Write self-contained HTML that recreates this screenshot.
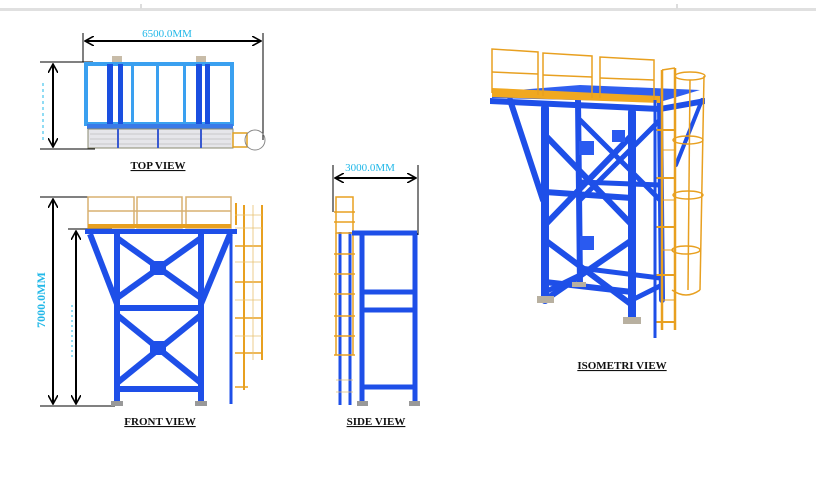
<!DOCTYPE html>
<html><head><meta charset="utf-8"><style>
html,body{margin:0;padding:0;background:#fff;width:816px;height:480px;overflow:hidden}
svg{display:block}
.lbl{font-family:"Liberation Serif",serif;font-size:11px;font-weight:bold;fill:#111;text-decoration:underline}
.dim{font-family:"Liberation Serif",serif;font-size:11px;fill:#22b8e8}
</style></head><body>
<svg width="816" height="480" viewBox="0 0 816 480">
<defs>
<marker id="ar" markerWidth="10" markerHeight="10" refX="9" refY="5" orient="auto-start-reverse" markerUnits="userSpaceOnUse">
<path d="M0,0 L9,5 L0,10" fill="none" stroke="#000" stroke-width="1.6"/></marker>
</defs>
<!-- top border -->
<rect x="0" y="8" width="816" height="3" fill="#e0e0e0"/>
<rect x="140" y="4" width="2" height="5" fill="#ddd"/><rect x="676" y="4" width="2" height="5" fill="#ddd"/>

<!-- TOP VIEW -->
<g stroke="#000" stroke-width="1">
<line x1="83" y1="33" x2="83" y2="62"/><line x1="263" y1="33" x2="263" y2="140"/>
<line x1="40" y1="62" x2="93" y2="62"/><line x1="40" y1="149" x2="95" y2="149"/>
</g>
<line x1="85" y1="41" x2="261" y2="41" stroke="#000" stroke-width="2" marker-start="url(#ar)" marker-end="url(#ar)"/>
<line x1="53" y1="64" x2="53" y2="147" stroke="#000" stroke-width="2" marker-start="url(#ar)" marker-end="url(#ar)"/>
<line x1="43" y1="83" x2="43" y2="140" stroke="#22b8e8" stroke-dasharray="3,3"/>
<text class="dim" x="167" y="37" text-anchor="middle">6500.0MM</text>
<rect x="112" y="56" width="10" height="8" fill="#c8bca8"/><rect x="196" y="56" width="10" height="8" fill="#c8bca8"/>
<rect x="86" y="64" width="146" height="60" fill="none" stroke="#3aa0f0" stroke-width="4"/>
<g fill="#3aa0f0"><rect x="131" y="62" width="3" height="62"/><rect x="156" y="62" width="3" height="62"/><rect x="183" y="62" width="3" height="62"/></g>
<g fill="#1a4fe0"><rect x="107" y="64" width="6" height="60"/><rect x="118" y="64" width="5" height="60"/><rect x="196" y="64" width="6" height="60"/><rect x="205" y="64" width="5" height="60"/></g>
<rect x="87" y="124" width="146" height="5" fill="#3a7ae8"/>
<rect x="88" y="129" width="145" height="19" fill="#e6e6ea" stroke="#8a8a70" stroke-width="1"/>
<g stroke="#aaa" stroke-width="0.5">
<line x1="90" y1="134" x2="231" y2="134"/><line x1="90" y1="139" x2="231" y2="139"/><line x1="90" y1="144" x2="231" y2="144"/>
</g>
<g fill="#3a5ad0"><rect x="117" y="129" width="2" height="19"/><rect x="157" y="129" width="2" height="19"/><rect x="200" y="129" width="2" height="19"/></g>
<rect x="233" y="133" width="14" height="14" fill="none" stroke="#e0a020" stroke-width="1.5"/>
<circle cx="255" cy="140" r="10" fill="none" stroke="#888"/>
<text class="lbl" x="158" y="169" text-anchor="middle">TOP VIEW</text>

<!-- FRONT VIEW -->
<g stroke="#000" stroke-width="1">
<line x1="40" y1="197" x2="90" y2="197"/><line x1="68" y1="229" x2="112" y2="229"/><line x1="40" y1="406" x2="115" y2="406"/>
</g>
<line x1="53" y1="199" x2="53" y2="404" stroke="#000" stroke-width="2" marker-start="url(#ar)" marker-end="url(#ar)"/>
<line x1="76" y1="231" x2="76" y2="404" stroke="#000" stroke-width="2" marker-start="url(#ar)" marker-end="url(#ar)"/>
<line x1="72" y1="305" x2="72" y2="360" stroke="#22b8e8" stroke-dasharray="2,3"/>
<text class="dim" x="45" y="300" text-anchor="middle" font-weight="bold" transform="rotate(-90 45 300)" style="font-size:12px">7000.0MM</text>
<g fill="none" stroke="#d8b070" stroke-width="1.5">
<rect x="88" y="197" width="46" height="31"/><rect x="137" y="197" width="45" height="31"/><rect x="186" y="197" width="45" height="31"/>
<line x1="88" y1="211" x2="231" y2="211"/>
</g>
<rect x="88" y="224" width="143" height="4" fill="#e8a020"/>
<rect x="85" y="229" width="152" height="5" fill="#1e4fe8"/>
<g stroke="#1e4fe8" stroke-width="6" fill="none">
<line x1="117" y1="233" x2="117" y2="402"/><line x1="201" y1="233" x2="201" y2="402"/>
<line x1="90" y1="234" x2="117" y2="304"/><line x1="230" y1="234" x2="201" y2="304"/>
<line x1="117" y1="238" x2="201" y2="298"/><line x1="201" y1="238" x2="117" y2="298"/>
<line x1="117" y1="315" x2="201" y2="383"/><line x1="201" y1="315" x2="117" y2="383"/>
<line x1="117" y1="308" x2="201" y2="308"/><line x1="117" y1="389" x2="201" y2="389"/>
<line x1="231" y1="233" x2="231" y2="404" stroke-width="3"/>
</g>
<rect x="150" y="261" width="16" height="14" fill="#1e4fe8"/><rect x="150" y="341" width="16" height="14" fill="#1e4fe8"/>
<rect x="111" y="401" width="12" height="5" fill="#999"/><rect x="195" y="401" width="12" height="5" fill="#999"/>
<g stroke="#e8a020" stroke-width="2" fill="none">
<line x1="244" y1="205" x2="244" y2="390"/><line x1="262" y1="205" x2="262" y2="360"/>
<line x1="236" y1="203" x2="236" y2="225"/>
</g>
<g stroke="#e8a020" stroke-width="1.5">
<line x1="235" y1="246" x2="262" y2="246"/><line x1="235" y1="282" x2="262" y2="282"/><line x1="235" y1="318" x2="262" y2="318"/><line x1="235" y1="353" x2="262" y2="353"/><line x1="235" y1="387" x2="248" y2="387"/>
</g>
<g stroke="#e8c070" stroke-width="0.8">
<line x1="235" y1="215" x2="262" y2="215"/><line x1="235" y1="228" x2="262" y2="228"/><line x1="235" y1="262" x2="262" y2="262"/><line x1="235" y1="300" x2="262" y2="300"/><line x1="235" y1="336" x2="262" y2="336"/><line x1="253" y1="205" x2="253" y2="360"/>
</g>
<text class="lbl" x="160" y="425" text-anchor="middle">FRONT VIEW</text>

<!-- SIDE VIEW -->
<g stroke="#000" stroke-width="1">
<line x1="333" y1="165" x2="333" y2="212"/><line x1="418" y1="165" x2="418" y2="235"/>
</g>
<line x1="335" y1="178" x2="416" y2="178" stroke="#000" stroke-width="2" marker-start="url(#ar)" marker-end="url(#ar)"/>
<text class="dim" x="370" y="171" text-anchor="middle">3000.0MM</text>
<g stroke="#1e4fe8" stroke-width="3"><line x1="340" y1="232" x2="340" y2="405"/><line x1="350" y1="232" x2="350" y2="405"/></g>
<g fill="none" stroke="#e8a020" stroke-width="1.5">
<rect x="336" y="197" width="17" height="36"/>
<line x1="336" y1="233" x2="336" y2="355"/><line x1="353" y1="233" x2="353" y2="355"/>
</g>
<g stroke="#e8a020" stroke-width="1.5">
<line x1="334" y1="254" x2="355" y2="254"/><line x1="334" y1="274" x2="355" y2="274"/><line x1="334" y1="294" x2="355" y2="294"/><line x1="334" y1="316" x2="355" y2="316"/><line x1="334" y1="336" x2="355" y2="336"/><line x1="334" y1="355" x2="355" y2="355"/>
<line x1="334" y1="212" x2="355" y2="212"/><line x1="334" y1="222" x2="355" y2="222"/>
</g>
<g stroke="#e8c070" stroke-width="0.8"><line x1="336" y1="380" x2="353" y2="380"/><line x1="336" y1="392" x2="353" y2="392"/></g>
<g fill="none" stroke="#1e4fe8" stroke-width="5">
<line x1="362" y1="233" x2="362" y2="402"/><line x1="415" y1="233" x2="415" y2="402"/>
<line x1="352" y1="233" x2="417" y2="233"/>
<line x1="362" y1="292" x2="415" y2="292"/><line x1="362" y1="310" x2="415" y2="310"/><line x1="362" y1="387" x2="415" y2="387"/>
</g>
<rect x="357" y="401" width="11" height="5" fill="#999"/><rect x="409" y="401" width="11" height="5" fill="#999"/>
<text class="lbl" x="376" y="425" text-anchor="middle">SIDE VIEW</text>

<!-- ISOMETRIC -->
<g fill="none" stroke="#1e4fe8" stroke-linecap="round">
<line x1="510" y1="100" x2="543" y2="200" stroke-width="6"/>
<line x1="578" y1="100" x2="580" y2="285" stroke-width="6"/>
<line x1="660" y1="103" x2="662" y2="300" stroke-width="6"/>
<line x1="545" y1="108" x2="545" y2="300" stroke-width="8"/>
<line x1="632" y1="112" x2="632" y2="318" stroke-width="8"/>
<line x1="545" y1="135" x2="632" y2="225" stroke-width="6"/>
<line x1="632" y1="135" x2="545" y2="225" stroke-width="6"/>
<line x1="545" y1="240" x2="632" y2="305" stroke-width="6"/>
<line x1="632" y1="240" x2="545" y2="300" stroke-width="6"/>
<line x1="580" y1="120" x2="660" y2="200" stroke-width="5"/>
<line x1="660" y1="120" x2="580" y2="200" stroke-width="5"/>
<line x1="545" y1="192" x2="632" y2="198" stroke-width="6"/>
<line x1="580" y1="182" x2="660" y2="185" stroke-width="5"/>
<line x1="545" y1="282" x2="632" y2="292" stroke-width="6"/>
<line x1="580" y1="268" x2="660" y2="278" stroke-width="5"/>
<line x1="545" y1="292" x2="580" y2="275" stroke-width="5"/>
<line x1="632" y1="300" x2="662" y2="285" stroke-width="5"/>
<line x1="702" y1="100" x2="676" y2="165" stroke-width="4"/>
</g>
<polygon points="490,98 660,106 705,98 705,104 660,112 490,104" fill="#1e4fe8"/>
<polygon points="492,92 580,85 700,90 660,102 492,98" fill="#2f5ff0"/>
<polygon points="492,88 660,96 660,103 492,97" fill="#f0a820"/>
<rect x="579" y="141" width="15" height="14" fill="#2a5af0"/>
<rect x="612" y="130" width="13" height="12" fill="#2a5af0"/>
<rect x="580" y="236" width="14" height="14" fill="#2a5af0"/>
<rect x="537" y="296" width="17" height="7" fill="#b8b0a0"/>
<rect x="623" y="317" width="18" height="7" fill="#b8b0a0"/>
<rect x="572" y="282" width="14" height="5" fill="#b8b0a0"/>
<g fill="none" stroke="#e8a020" stroke-width="1.5">
<polyline points="492,93 492,49 538,52 538,95"/><line x1="492" y1="72" x2="538" y2="74"/>
<polyline points="543,96 543,53 592,56 592,98"/><line x1="543" y1="75" x2="592" y2="77"/>
<polyline points="600,98 600,57 654,60 654,100"/><line x1="600" y1="78" x2="654" y2="80"/>
<line x1="662" y1="70" x2="662" y2="330" stroke-width="2.5"/>
<line x1="675" y1="68" x2="675" y2="330" stroke-width="2.5"/>
<line x1="662" y1="70" x2="675" y2="68"/>
<ellipse cx="690" cy="76" rx="15" ry="4"/>
<ellipse cx="688" cy="140" rx="15" ry="4"/>
<ellipse cx="688" cy="195" rx="15" ry="4"/>
<ellipse cx="686" cy="250" rx="14" ry="4"/>
<line x1="704" y1="76" x2="700" y2="290"/>
<line x1="690" y1="80" x2="688" y2="290"/>
<path d="M672,290 Q686,300 700,290"/>
</g>
<g stroke="#e8a020" stroke-width="2">
<line x1="655" y1="130" x2="676" y2="130"/><line x1="655" y1="178" x2="676" y2="178"/><line x1="655" y1="227" x2="676" y2="227"/><line x1="655" y1="275" x2="676" y2="275"/><line x1="655" y1="322" x2="676" y2="322"/>
</g>
<g stroke="#e8a020" stroke-width="1"><line x1="662" y1="150" x2="675" y2="150"/><line x1="662" y1="200" x2="675" y2="200"/><line x1="662" y1="250" x2="675" y2="250"/><line x1="662" y1="300" x2="675" y2="300"/></g>
<line x1="655" y1="100" x2="655" y2="338" stroke="#1e4fe8" stroke-width="3"/>
<text class="lbl" x="622" y="369" text-anchor="middle">ISOMETRI VIEW</text>
</svg>
</body></html>
